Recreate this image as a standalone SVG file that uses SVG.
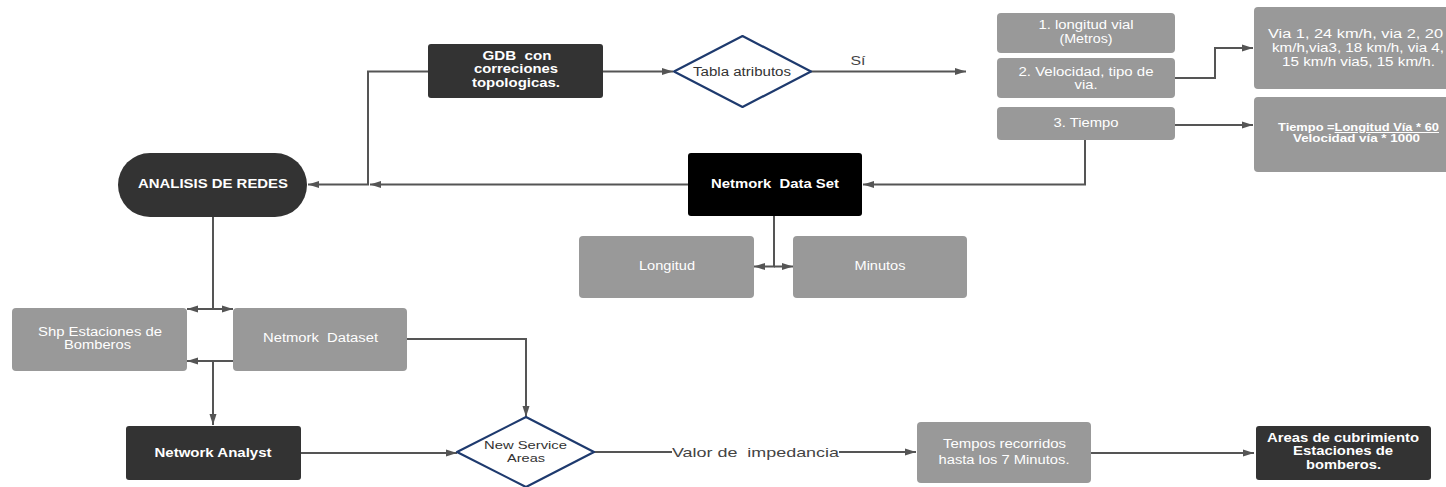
<svg xmlns="http://www.w3.org/2000/svg" width="1446" height="487" viewBox="0 0 1446 487">
<style>
.dark{fill:#333333}
.black{fill:#000000}
.gray{fill:#999999}
.dia{fill:#ffffff;stroke:#1e3a6e;stroke-width:2.2;stroke-linejoin:round}
text{font-family:"Liberation Sans",Arial,sans-serif;text-anchor:middle}
.t{font-size:12px;fill:#ffffff}
.b{font-weight:bold}
.dt{font-size:12px;fill:#333333}
.conn path{fill:none;stroke:#555555;stroke-width:2}
.lbl{font-size:13px;fill:#444444}
</style>
<defs>
<marker id="ah" viewBox="0 0 11 8" refX="11" refY="4" markerWidth="11" markerHeight="8" markerUnits="userSpaceOnUse" orient="auto">
<path d="M0,0.5 L11,4 L0,7.5 z" fill="#555555"/>
</marker>
</defs>
<rect width="1446" height="487" fill="#ffffff"/>

<g class="conn">
<path d="M428,71.5 H368 V184.5 H308" marker-end="url(#ah)"/>
<path d="M603,71.5 H673" marker-end="url(#ah)"/>
<path d="M811,71.5 H966" marker-end="url(#ah)"/>
<path d="M688,184.5 H370" marker-end="url(#ah)"/>
<path d="M1085,140 V184.5 H863" marker-end="url(#ah)"/>
<path d="M774,216 V266.5 H754" marker-end="url(#ah)"/>
<path d="M774,266.5 H793" marker-end="url(#ah)"/>
<path d="M1175,78 H1215 V48 H1253" marker-end="url(#ah)"/>
<path d="M1175,125 H1253" marker-end="url(#ah)"/>
<path d="M213,217 V309 H187" marker-end="url(#ah)"/>
<path d="M213,309 H233" marker-end="url(#ah)"/>
<path d="M233,361 H187" marker-end="url(#ah)"/>
<path d="M213,361 V425" marker-end="url(#ah)"/>
<path d="M407,339 H526 V417" marker-end="url(#ah)"/>
<path d="M301,453 H457" marker-end="url(#ah)"/>
<path d="M594,452 H672"/>
<path d="M839,452 H916" marker-end="url(#ah)"/>
<path d="M1091,453 H1254" marker-end="url(#ah)"/>
<text class="lbl" x="858" y="65" textLength="15" lengthAdjust="spacingAndGlyphs">Sí</text>
<text class="lbl" x="755.5" y="456.5" xml:space="preserve" textLength="167" lengthAdjust="spacingAndGlyphs">Valor de  impedancia</text>
</g>

<g id="analisis">
<rect x="118" y="153" width="189" height="64" rx="32" class="dark"/>
<text class="t b" x="213" y="188" textLength="150" lengthAdjust="spacingAndGlyphs">ANALISIS DE REDES</text>
</g>
<g id="gdb">
<rect x="428" y="44" width="175" height="54" rx="3" class="dark"/>
<text class="t b" x="517" y="59.5" xml:space="preserve" textLength="69" lengthAdjust="spacingAndGlyphs">GDB  con</text>
<text class="t b" x="516" y="73" textLength="84" lengthAdjust="spacingAndGlyphs">correciones</text>
<text class="t b" x="516" y="86.5" textLength="88" lengthAdjust="spacingAndGlyphs">topologicas.</text>
</g>
<g id="tabla">
<path d="M742.5,36 L811,71.5 L742.5,107 L674,71.5 Z" class="dia"/>
<text class="dt" x="742" y="75.5" textLength="98" lengthAdjust="spacingAndGlyphs">Tabla atributos</text>
</g>
<g id="longvial">
<rect x="997" y="13" width="178" height="40" rx="4" class="gray"/>
<text class="t" x="1086" y="29" textLength="95" lengthAdjust="spacingAndGlyphs">1. longitud vial</text>
<text class="t" x="1086" y="42.5" textLength="53" lengthAdjust="spacingAndGlyphs">(Metros)</text>
</g>
<g id="velocidad">
<rect x="997" y="58" width="178" height="40" rx="4" class="gray"/>
<text class="t" x="1086" y="75.5" textLength="135" lengthAdjust="spacingAndGlyphs">2. Velocidad, tipo de</text>
<text class="t" x="1086" y="89" textLength="23" lengthAdjust="spacingAndGlyphs">via.</text>
</g>
<g id="tiempo">
<rect x="997" y="107" width="178" height="33" rx="4" class="gray"/>
<text class="t" x="1086" y="126.5" textLength="65" lengthAdjust="spacingAndGlyphs">3. Tiempo</text>
</g>
<g id="vias">
<rect x="1254" y="7" width="198" height="82" rx="4" class="gray"/>
<text class="t" x="1355.5" y="38" style="font-size:12.5px" textLength="175" lengthAdjust="spacingAndGlyphs">Via 1, 24 km/h, via 2, 20</text>
<text class="t" x="1358" y="52" style="font-size:12.5px" textLength="172" lengthAdjust="spacingAndGlyphs">km/h,via3, 18 km/h, via 4,</text>
<text class="t" x="1358.5" y="66" style="font-size:12.5px" textLength="153" lengthAdjust="spacingAndGlyphs">15 km/h via5, 15 km/h.</text>
</g>
<g id="formula">
<rect x="1254" y="97" width="198" height="75" rx="4" class="gray"/>
<text class="t b" x="1358.5" y="131" style="font-size:10px" textLength="161" lengthAdjust="spacingAndGlyphs">Tiempo =<tspan text-decoration="underline">Longitud Vía * 60</tspan></text>
<text class="t b" x="1356.5" y="142" style="font-size:10px" textLength="127" lengthAdjust="spacingAndGlyphs">Velocidad vía * 1000</text>
</g>
<g id="netdataset">
<rect x="688" y="153" width="174" height="63" rx="3" class="black"/>
<text class="t b" x="775" y="187.5" xml:space="preserve" textLength="128" lengthAdjust="spacingAndGlyphs">Netmork  Data Set</text>
</g>
<g id="longitud">
<rect x="579" y="236" width="175" height="62" rx="4" class="gray"/>
<text class="t" x="667" y="270" textLength="56" lengthAdjust="spacingAndGlyphs">Longitud</text>
</g>
<g id="minutos">
<rect x="793" y="236" width="174" height="62" rx="4" class="gray"/>
<text class="t" x="880" y="270" textLength="51" lengthAdjust="spacingAndGlyphs">Minutos</text>
</g>
<g id="shp">
<rect x="12" y="308" width="175" height="63" rx="4" class="gray"/>
<text class="t" x="100" y="335.5" textLength="124" lengthAdjust="spacingAndGlyphs">Shp Estaciones de</text>
<text class="t" x="97.5" y="349" textLength="67" lengthAdjust="spacingAndGlyphs">Bomberos</text>
</g>
<g id="netdataset2">
<rect x="233" y="308" width="174" height="63" rx="4" class="gray"/>
<text class="t" x="320.5" y="342" xml:space="preserve" textLength="115" lengthAdjust="spacingAndGlyphs">Netmork  Dataset</text>
</g>
<g id="analyst">
<rect x="126" y="426" width="175" height="54" rx="3" class="dark"/>
<text class="t b" x="213" y="457" textLength="117" lengthAdjust="spacingAndGlyphs">Network Analyst</text>
</g>
<g id="service">
<path d="M526,417 L594,452 L526,487 L457,452 Z" class="dia"/>
<text class="dt" x="525.5" y="448.5" style="font-size:11.5px" textLength="83" lengthAdjust="spacingAndGlyphs">New Service</text>
<text class="dt" x="526" y="462" style="font-size:11.5px" textLength="38" lengthAdjust="spacingAndGlyphs">Areas</text>
</g>
<g id="tempos">
<rect x="917" y="422" width="174" height="61" rx="4" class="gray"/>
<text class="t" x="1004.5" y="448" textLength="123" lengthAdjust="spacingAndGlyphs">Tempos recorridos</text>
<text class="t" x="1004" y="463.5" textLength="131" lengthAdjust="spacingAndGlyphs">hasta los 7 Minutos.</text>
</g>
<g id="areas">
<rect x="1256" y="426" width="175" height="54" rx="3" class="dark"/>
<text class="t b" x="1343" y="441.5" textLength="152" lengthAdjust="spacingAndGlyphs">Areas de cubrimiento</text>
<text class="t b" x="1343" y="455" textLength="100" lengthAdjust="spacingAndGlyphs">Estaciones de</text>
<text class="t b" x="1343.5" y="468.5" textLength="75" lengthAdjust="spacingAndGlyphs">bomberos.</text>
</g>
</svg>
